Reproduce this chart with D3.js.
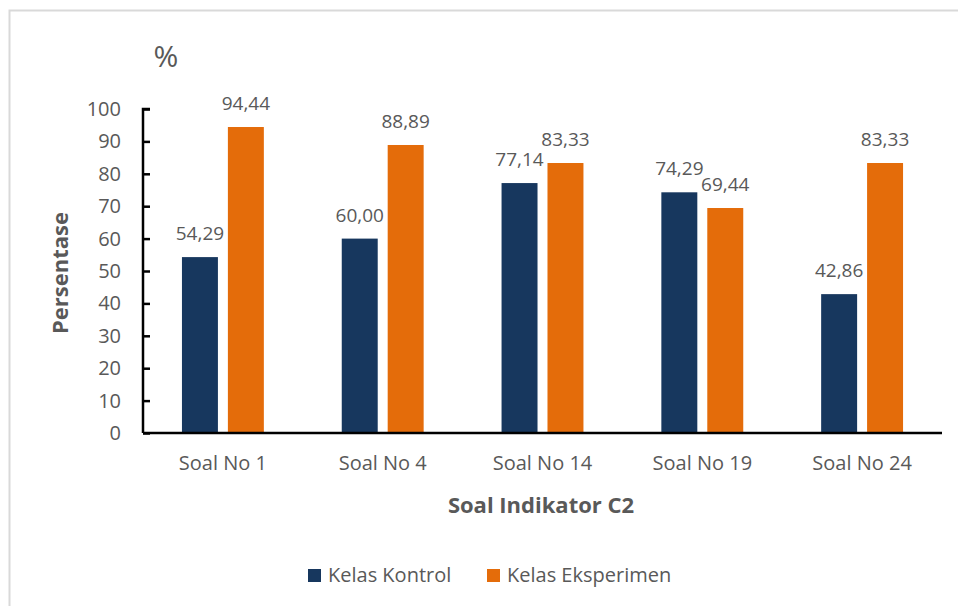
<!DOCTYPE html>
<html>
<head>
<meta charset="utf-8">
<script src="https://cdn.jsdelivr.net/npm/d3@7"></script>
<style>
  html, body { margin: 0; padding: 0; background: #fff; }
  svg { display: block; }
  text { font-family: "Open Sans", "Noto Sans", sans-serif; }
</style>
</head>
<body>
<svg id="chart" width="958" height="606"></svg>
<script>
// Question categories and percentage per class
const categories = ["Soal No 1", "Soal No 4", "Soal No 14", "Soal No 19", "Soal No 24"];
const seriesNames = ["Kelas Kontrol", "Kelas Eksperimen"];
const kontrol = [54.29, 60.00, 77.14, 74.29, 42.86];
const eksperimen = [94.44, 88.89, 83.33, 69.44, 83.33];
const yTicks = [0, 10, 20, 30, 40, 50, 60, 70, 80, 90, 100];
const colors = ["#17375e", "#e46c0a"];

const svg = d3.select("#chart");
const textColor = "#595959";

// frame around the chart area
svg.append("rect")
  .attr("x", 9.5).attr("y", 10.5)
  .attr("width", 960).attr("height", 610)
  .attr("fill", "none")
  .attr("stroke", "#d9d9d9")
  .attr("stroke-width", 2);

const plot = { left: 143, right: 942, top: 109, bottom: 433 };

const x0 = d3.scaleBand()
  .domain(categories)
  .range([plot.left, plot.right])
  .paddingInner(0)
  .paddingOuter(0);

const x1 = d3.scaleBand()
  .domain(seriesNames)
  .range([0, x0.bandwidth()])
  .paddingInner(0.217)
  .paddingOuter(0.848);

const y = d3.scaleLinear().domain([0, 100]).range([plot.bottom, plot.top]);

const data = categories.map((c, i) => ({
  category: c,
  values: [
    { name: seriesNames[0], value: kontrol[i] },
    { name: seriesNames[1], value: eksperimen[i] }
  ]
}));

// bars
const groups = svg.append("g").selectAll("g")
  .data(data).join("g")
  .attr("transform", d => `translate(${x0(d.category)},0)`);

groups.selectAll("rect")
  .data(d => d.values).join("rect")
  .attr("x", d => x1(d.name))
  .attr("y", d => y(d.value))
  .attr("width", x1.bandwidth())
  .attr("height", d => y(0) - y(d.value))
  .attr("fill", (d, i) => colors[i]);

// value labels above each bar
const fmt = v => v.toFixed(2).replace(".", ",");
groups.selectAll("text.val")
  .data(d => d.values).join("text")
  .attr("class", "val")
  .attr("x", d => x1(d.name) + x1.bandwidth() / 2)
  .attr("y", d => y(d.value) - 17)
  .attr("text-anchor", "middle")
  .attr("font-size", 19)
  .attr("fill", textColor)
  .text(d => fmt(d.value));

// y axis
const yAxis = svg.append("g")
  .attr("transform", `translate(${plot.left},0)`)
  .call(d3.axisLeft(y).tickValues(yTicks).tickSize(-7).tickPadding(22));
yAxis.select(".domain").attr("stroke", "#000").attr("stroke-width", 2.5)
  .attr("d", `M7,${plot.top}H0V${plot.bottom}`);
yAxis.selectAll(".tick line").attr("stroke", "#000").attr("stroke-width", 2.5);
yAxis.selectAll(".tick text")
  .attr("font-size", 20).attr("fill", textColor)
  .attr("font-family", "Open Sans, sans-serif");

// x axis
const xAxis = svg.append("g")
  .attr("transform", `translate(0,${plot.bottom})`)
  .call(d3.axisBottom(x0).tickSize(0).tickPadding(23));
xAxis.select(".domain").attr("stroke", "#000").attr("stroke-width", 2.5)
  .attr("d", `M${plot.left},0H${plot.right}`);
xAxis.selectAll(".tick text")
  .attr("font-size", 20).attr("fill", textColor)
  .attr("font-family", "Open Sans, sans-serif");

// axis titles
svg.append("text")
  .attr("x", 166).attr("y", 67)
  .attr("text-anchor", "middle")
  .attr("font-size", 30)
  .attr("fill", textColor)
  .text("%");

svg.append("text")
  .attr("transform", `translate(68,${(plot.top + plot.bottom) / 2 + 2}) rotate(-90)`)
  .attr("text-anchor", "middle")
  .attr("font-size", 22)
  .attr("font-weight", "bold")
  .attr("fill", textColor)
  .text("Persentase");

svg.append("text")
  .attr("x", 541).attr("y", 513)
  .attr("text-anchor", "middle")
  .attr("font-size", 22)
  .attr("font-weight", "bold")
  .attr("fill", textColor)
  .text("Soal Indikator C2");

// legend
const legendItems = [
  { name: seriesNames[0], x: 308 },
  { name: seriesNames[1], x: 487 }
];
const legend = svg.append("g").selectAll("g")
  .data(legendItems).join("g")
  .attr("transform", d => `translate(${d.x},569)`);
legend.append("rect")
  .attr("width", 13).attr("height", 13)
  .attr("fill", (d, i) => colors[i]);
legend.append("text")
  .attr("x", 20).attr("y", 13)
  .attr("font-size", 20)
  .attr("fill", textColor)
  .text(d => d.name);
</script>
</body>
</html>
